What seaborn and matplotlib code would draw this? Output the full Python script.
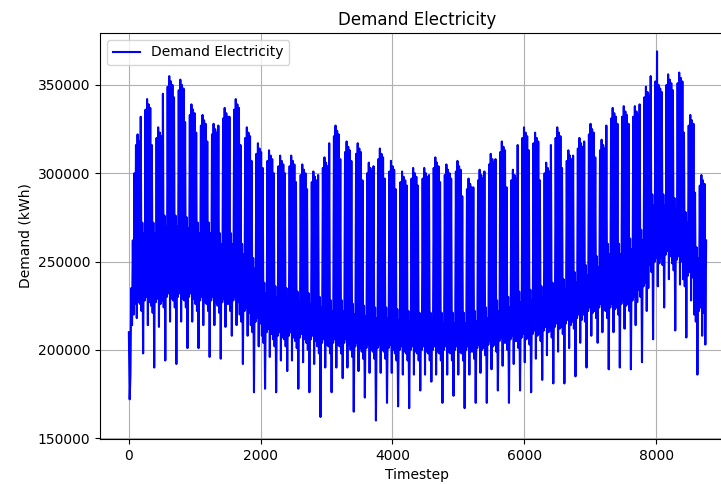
import numpy as np
import matplotlib
matplotlib.use("Agg")
from matplotlib import pyplot as plt
import seaborn as sns
import pandas as pd

# demand in thousands of kWh, two readings per day (night low, day high),
# read off the reference chart week by week
q1_demand = [
    210, 172, 186, 235, 214, 262, 220, 300, 226, 316, 218, 322, 227, 318,
    226, 332, 222, 272, 198, 266, 228, 336, 230, 342, 214, 339, 227, 337,
    225, 316, 221, 272, 190, 266, 227, 320, 229, 326, 213, 323, 226, 321,
    228, 345, 224, 276, 194, 270, 230, 349, 232, 355, 216, 352, 229, 350,
    228, 343, 224, 276, 192, 270, 230, 347, 232, 353, 216, 350, 229, 348,
    228, 329, 224, 275, 201, 269, 230, 333, 232, 339, 216, 336, 229, 334,
    226, 323, 222, 272, 201, 266, 228, 327, 230, 333, 214, 330, 227, 328,
    226, 318, 222, 272, 196, 266, 228, 322, 230, 328, 214, 325, 227, 323,
    225, 327, 221, 266, 195, 260, 227, 331, 229, 337, 213, 334, 226, 332,
    226, 332, 222, 266, 208, 260, 228, 336, 230, 342, 214, 339, 227, 337,
    220, 316, 216, 260, 192, 254, 222, 320, 224, 326, 208, 323, 221, 321,
    214, 307, 210, 252, 176, 246, 216, 311, 218, 317, 202, 314, 215, 312,
    208, 303, 204, 238, 178, 232, 210, 307, 212, 313, 196, 310, 209, 308,
]
q2_demand = [
    206, 300, 202, 236, 176, 230, 208, 304, 210, 310, 194, 307, 207, 305,
    206, 300, 202, 235, 188, 229, 208, 304, 210, 310, 194, 307, 207, 305,
    205, 295, 201, 233, 178, 227, 207, 299, 209, 305, 193, 302, 206, 300,
    204, 291, 200, 232, 176, 226, 206, 295, 208, 301, 192, 298, 205, 296,
    202, 299, 198, 230, 162, 224, 204, 303, 206, 309, 190, 306, 203, 304,
    202, 317, 198, 228, 176, 222, 204, 321, 206, 327, 190, 324, 203, 322,
    202, 308, 198, 228, 184, 222, 204, 312, 206, 318, 190, 315, 203, 313,
    200, 307, 196, 226, 165, 220, 202, 311, 204, 317, 188, 314, 201, 312,
    199, 296, 195, 225, 173, 219, 201, 300, 203, 306, 187, 303, 200, 301,
    199, 304, 195, 224, 160, 218, 201, 308, 203, 314, 187, 311, 200, 309,
    199, 297, 195, 224, 170, 218, 201, 301, 203, 307, 187, 304, 200, 302,
    198, 291, 194, 223, 168, 217, 200, 295, 202, 301, 186, 298, 199, 296,
    198, 293, 194, 222, 167, 216, 200, 297, 202, 303, 186, 300, 199, 298,
]
q3_demand = [
    198, 293, 194, 221, 177, 215, 200, 297, 202, 303, 186, 300, 199, 298,
    198, 299, 194, 221, 182, 215, 200, 303, 202, 309, 186, 306, 199, 304,
    198, 295, 194, 221, 170, 215, 200, 299, 202, 305, 186, 302, 199, 300,
    198, 297, 194, 221, 174, 215, 200, 301, 202, 307, 186, 304, 199, 302,
    198, 287, 194, 221, 167, 215, 200, 291, 202, 297, 186, 294, 199, 292,
    199, 292, 195, 222, 170, 216, 201, 296, 203, 302, 187, 299, 200, 297,
    201, 301, 197, 224, 170, 218, 203, 305, 205, 311, 189, 308, 202, 306,
    203, 308, 199, 228, 177, 222, 205, 312, 207, 318, 191, 315, 204, 313,
    204, 292, 200, 230, 170, 224, 206, 296, 208, 302, 192, 299, 205, 297,
    205, 316, 201, 233, 177, 227, 207, 320, 209, 326, 193, 323, 206, 321,
    207, 313, 203, 234, 176, 228, 209, 317, 211, 323, 195, 320, 208, 318,
    209, 296, 205, 236, 183, 230, 211, 300, 213, 306, 197, 303, 210, 301,
    211, 316, 207, 238, 181, 232, 213, 320, 215, 326, 199, 323, 212, 321,
]
q4_demand = [
    213, 303, 209, 240, 181, 234, 215, 307, 217, 313, 201, 310, 214, 308,
    216, 310, 212, 244, 185, 238, 218, 314, 220, 320, 204, 317, 217, 315,
    220, 318, 216, 248, 190, 242, 222, 322, 224, 328, 208, 325, 221, 323,
    222, 309, 218, 253, 204, 247, 224, 313, 226, 319, 210, 316, 223, 314,
    222, 327, 218, 260, 189, 254, 224, 331, 226, 337, 210, 334, 223, 332,
    224, 328, 220, 260, 190, 254, 226, 332, 228, 338, 212, 335, 225, 333,
    226, 328, 222, 263, 189, 257, 228, 332, 230, 338, 214, 335, 227, 333,
    234, 339, 230, 268, 193, 262, 236, 343, 238, 349, 222, 346, 235, 344,
    248, 355, 244, 288, 206, 282, 250, 352, 252, 369, 236, 350, 249, 348,
    252, 346, 248, 288, 224, 282, 254, 350, 256, 356, 240, 353, 253, 351,
    249, 347, 245, 286, 211, 280, 251, 351, 253, 357, 237, 354, 250, 352,
    240, 323, 236, 278, 207, 272, 242, 327, 244, 333, 228, 330, 241, 328,
    220, 289, 216, 258, 186, 252, 222, 293, 224, 299, 208, 296, 221, 294,
    203, 262,
]

demand = np.array(q1_demand + q2_demand + q3_demand + q4_demand) * 1000
timestep = np.linspace(0, 8759, len(demand))

df = pd.DataFrame({"Timestep": timestep, "Demand": demand})

fig = plt.figure(figsize=(7.21, 4.84), dpi=100)
ax = fig.add_axes([0.1387, 0.093, 0.8807, 0.839])
sns.lineplot(data=df, x="Timestep", y="Demand", color="blue", linewidth=1.5,
             estimator=None, label="Demand Electricity", ax=ax)
ax.set_title("Demand Electricity")
ax.set_xlabel("Timestep")
ax.set_ylabel("Demand (kWh)")
ax.grid(True)
ax.legend(loc="upper left")

fig.savefig("out.png", dpi=100)
